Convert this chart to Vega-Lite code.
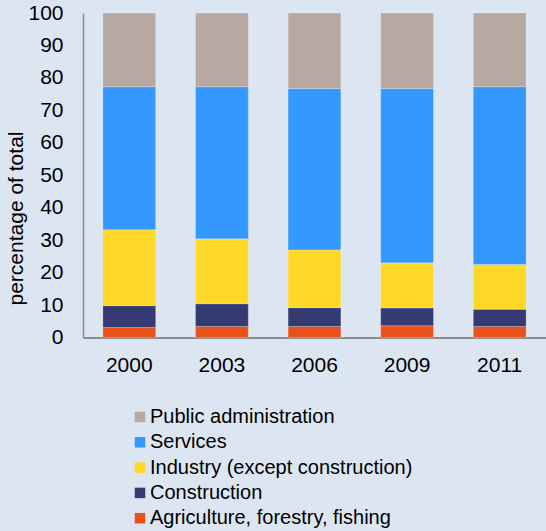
{
  "$schema": "https://vega.github.io/schema/vega-lite/v6.json",
  "autosize": "none",
  "width": 463,
  "height": 324.5,
  "padding": {"left": 83, "top": 13, "right": 0, "bottom": 193.5},
  "background": "#dce6f2",
  "config": {
    "view": {"stroke": null},
    "font": "Liberation Sans",
    "axis": {"grid": false, "labelFont": "Liberation Sans", "titleFont": "Liberation Sans", "labelColor": "#000000", "titleColor": "#000000"}
  },
  "data": {
    "values": [
      {"year": "2000", "sector": "Agriculture, forestry, fishing", "rank": 1, "value": 3.1},
      {"year": "2000", "sector": "Construction", "rank": 2, "value": 6.7},
      {"year": "2000", "sector": "Industry (except construction)", "rank": 3, "value": 23.4},
      {"year": "2000", "sector": "Services", "rank": 4, "value": 44.1},
      {"year": "2000", "sector": "Public administration", "rank": 5, "value": 22.7},
      {"year": "2003", "sector": "Agriculture, forestry, fishing", "rank": 1, "value": 3.4},
      {"year": "2003", "sector": "Construction", "rank": 2, "value": 7.0},
      {"year": "2003", "sector": "Industry (except construction)", "rank": 3, "value": 20.0},
      {"year": "2003", "sector": "Services", "rank": 4, "value": 46.9},
      {"year": "2003", "sector": "Public administration", "rank": 5, "value": 22.7},
      {"year": "2006", "sector": "Agriculture, forestry, fishing", "rank": 1, "value": 3.4},
      {"year": "2006", "sector": "Construction", "rank": 2, "value": 5.8},
      {"year": "2006", "sector": "Industry (except construction)", "rank": 3, "value": 17.8},
      {"year": "2006", "sector": "Services", "rank": 4, "value": 49.7},
      {"year": "2006", "sector": "Public administration", "rank": 5, "value": 23.3},
      {"year": "2009", "sector": "Agriculture, forestry, fishing", "rank": 1, "value": 3.6},
      {"year": "2009", "sector": "Construction", "rank": 2, "value": 5.5},
      {"year": "2009", "sector": "Industry (except construction)", "rank": 3, "value": 13.9},
      {"year": "2009", "sector": "Services", "rank": 4, "value": 53.7},
      {"year": "2009", "sector": "Public administration", "rank": 5, "value": 23.3},
      {"year": "2011", "sector": "Agriculture, forestry, fishing", "rank": 1, "value": 3.4},
      {"year": "2011", "sector": "Construction", "rank": 2, "value": 5.3},
      {"year": "2011", "sector": "Industry (except construction)", "rank": 3, "value": 13.8},
      {"year": "2011", "sector": "Services", "rank": 4, "value": 54.8},
      {"year": "2011", "sector": "Public administration", "rank": 5, "value": 22.7}
    ]
  },
  "mark": {"type": "bar", "stroke": "#ffffff", "strokeWidth": 0.75, "strokeOpacity": 0.3},
  "encoding": {
    "x": {
      "field": "year", "type": "ordinal",
      "scale": {"paddingInner": 0.43, "paddingOuter": 0.215},
      "axis": {"title": null, "labelAngle": 0, "labelFontSize": 21, "ticks": false, "labelPadding": 17, "domainColor": "#8c8c8c", "domainWidth": 1.8}
    },
    "y": {
      "field": "value", "type": "quantitative", "stack": "zero",
      "scale": {"domain": [0, 100], "nice": false},
      "axis": {"title": "percentage of total", "values": [0,10,20,30,40,50,60,70,80,90,100], "labelFontSize": 21, "ticks": false, "labelPadding": 20, "domainColor": "#8c8c8c", "domainWidth": 1.5, "titleFontSize": 21, "titleFontWeight": "normal", "titleAngle": 270, "titleAlign": "center", "titleBaseline": "middle", "titleX": -67, "titleY": 205}
    },
    "order": {"field": "rank", "type": "quantitative", "sort": "ascending"},
    "color": {
      "field": "sector", "type": "nominal",
      "sort": ["Agriculture, forestry, fishing", "Construction", "Industry (except construction)", "Services", "Public administration"],
      "scale": {"range": ["#e8511a", "#353b72", "#ffd727", "#3399ff", "#b7a9a2"]},
      "legend": {
        "title": null,
        "orient": "none",
        "legendX": 47,
        "legendY": 394,
        "values": ["Public administration", "Services", "Industry (except construction)", "Construction", "Agriculture, forestry, fishing"],
        "symbolType": "square",
        "symbolSize": 110,
        "symbolStrokeWidth": 0,
        "symbolOpacity": 1,
        "labelFontSize": 20,
        "labelColor": "#000000",
        "labelOffset": 0,
        "rowPadding": 5.3,
        "padding": 0,
        "labelLimit": 400
      }
    }
  }
}
